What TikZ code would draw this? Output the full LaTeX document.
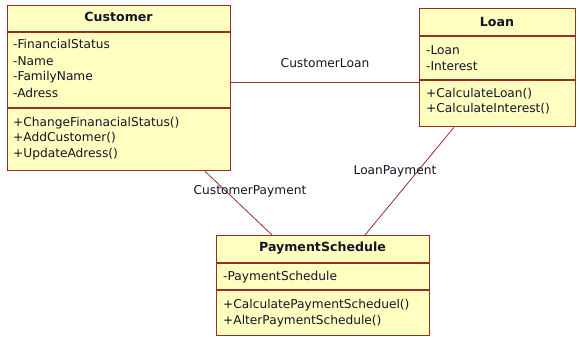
\documentclass[tikz,border=0pt]{standalone}
\usepackage{fontspec}
\setmainfont{DejaVu Sans}
\definecolor{umlfill}{RGB}{255,255,192}
\definecolor{umledge}{RGB}{150,45,45}
\definecolor{umltext}{RGB}{20,20,40}
\begin{document}
\begin{tikzpicture}[x=1pt,y=-1pt,
  umlbox/.style={draw=umledge, fill=umlfill, line width=1.3pt, anchor=north west, inner sep=0pt},
  divider/.style={draw=umledge, line width=1.2pt},
  member/.style={anchor=west, inner sep=0pt, text=umltext, font=\fontsize{12.2}{14}\selectfont},
  classname/.style={inner sep=0pt, text=umltext, font=\fontsize{12.6}{14}\selectfont\bfseries},
  assoc/.style={draw=umledge, line width=0.8pt},
  assoclabel/.style={inner sep=0pt, text=umltext, font=\fontsize{12.2}{14}\selectfont}]
\useasboundingbox (0,0) rectangle (579,337);

% Customer class
\node[umlbox, minimum width=223pt, minimum height=165pt] (cust) at (7,5) {};
\draw[divider] (7,32) -- (230,32);
\draw[divider] (7,108) -- (230,108);
\node[classname] (custT) at (118.5,17) {Customer};
\node[member] (c1) at (13,44) {-FinancialStatus};
\node[member] (c2) at (13,61) {-Name};
\node[member] (c3) at (13,77) {-FamilyName};
\node[member] (c4) at (13,93) {-Adress};
\node[member] (c5) at (13,123) {+ChangeFinanacialStatus()};
\node[member] (c6) at (13,138) {+AddCustomer()};
\node[member] (c7) at (13,154) {+UpdateAdress()};

% Loan class
\node[umlbox, minimum width=156pt, minimum height=118pt] (loan) at (419,8) {};
\draw[divider] (419,36) -- (575,36);
\draw[divider] (419,80) -- (575,80);
\node[classname] (loanT) at (497,22) {Loan};
\node[member] (l1) at (426,50) {-Loan};
\node[member] (l2) at (426,66) {-Interest};
\node[member] (l3) at (426,94) {+CalculateLoan()};
\node[member] (l4) at (426,109) {+CalculateInterest()};

% PaymentSchedule class
\node[umlbox, minimum width=213pt, minimum height=100pt] (pay) at (216,235) {};
\draw[divider] (216,263) -- (429,263);
\draw[divider] (216,290) -- (429,290);
\node[classname] (payT) at (322.5,248) {PaymentSchedule};
\node[member] (p1) at (223,277) {-PaymentSchedule};
\node[member] (p2) at (223,305) {+CalculatePaymentScheduel()};
\node[member] (p3) at (223,321) {+AlterPaymentSchedule()};

% Associations
\draw[assoc] (cust.east |- 0,82) -- (loan.west |- 0,82);
\draw[assoc] (cust.south -| 205,0) -- (pay.north -| 272,0);
\draw[assoc] (loan.south -| 454,0) -- (pay.north -| 365,0);

\node[assoclabel] (lblCL) at (325,63) {CustomerLoan};
\node[assoclabel] (lblCP) at (250,191) {CustomerPayment};
\node[assoclabel] (lblLP) at (395,171) {LoanPayment};
\end{tikzpicture}
\end{document}
